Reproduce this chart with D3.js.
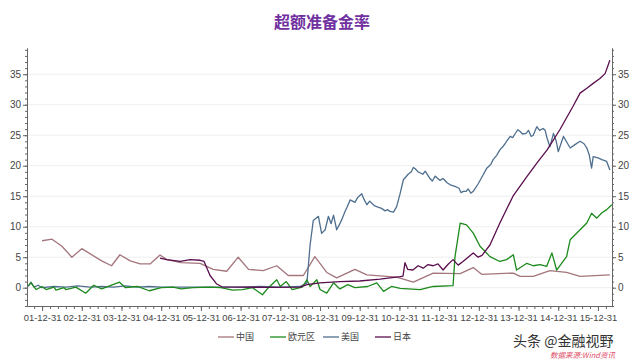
<!DOCTYPE html>
<html>
<head>
<meta charset="utf-8">
<script src="https://cdn.jsdelivr.net/npm/d3@7/dist/d3.min.js"></script>
<style>
  body { margin: 0; background: #fff; }
  svg { display: block; }
</style>
</head>
<body>
<div id="chart"></div>
<script>
// values: [year (decimal), percent]
const chinaData = [
  [2002.0, 7.7], [2002.25, 7.95], [2002.5, 6.8], [2002.75, 5.0], [2003.0, 6.4],
  [2003.5, 4.4], [2003.75, 3.6], [2003.96, 5.4], [2004.22, 4.4], [2004.47, 3.9],
  [2004.72, 3.9], [2004.97, 5.35], [2005.14, 4.6], [2005.5, 4.1], [2005.98, 4.0],
  [2006.31, 3.0], [2006.65, 2.7], [2006.94, 5.0], [2007.2, 3.0], [2007.57, 2.8],
  [2007.91, 3.6], [2008.2, 2.0], [2008.58, 2.0], [2008.87, 5.1], [2009.17, 2.5],
  [2009.42, 1.6], [2009.88, 3.0], [2010.18, 2.1], [2010.93, 1.75], [2011.35, 0.9],
  [2011.85, 2.4], [2012.53, 2.3], [2012.86, 3.3], [2013.07, 2.2], [2013.87, 2.4],
  [2014.04, 1.85], [2014.37, 1.85], [2014.79, 2.8], [2015.21, 2.5], [2015.55, 1.85],
  [2016.3, 2.1]
];

const euroData = [
  [2001.65, 0.3], [2001.72, 0.8], [2001.85, -0.3], [2002.0, 0.2], [2002.1, -0.3],
  [2002.3, 0.1], [2002.35, -0.4], [2002.55, 0.0], [2002.6, -0.3], [2002.85, 0.1],
  [2003.1, -0.9], [2003.3, 0.4], [2003.5, -0.2], [2003.7, 0.3], [2003.95, 0.9],
  [2004.1, 0.0], [2004.4, 0.2], [2004.7, -0.5], [2005.0, 0.0], [2005.3, 0.1],
  [2005.5, -0.2], [2005.8, 0.0], [2006.2, 0.1], [2006.5, 0.0], [2006.8, -0.4],
  [2007.05, -0.3], [2007.3, 0.0], [2007.55, -1.15], [2007.7, 0.0], [2007.91, 1.3],
  [2008.0, 0.2], [2008.15, 1.0], [2008.3, -0.3], [2008.55, 0.1], [2008.67, 1.3],
  [2008.75, 0.2], [2008.92, 1.3], [2009.0, -0.3], [2009.17, -0.9], [2009.34, 0.8],
  [2009.5, -0.2], [2009.7, 0.5], [2009.88, 0.0], [2010.2, 0.2], [2010.43, 0.8],
  [2010.6, -0.6], [2010.8, 0.2], [2011.02, -0.1], [2011.52, -0.3], [2011.85, 0.2],
  [2012.35, 0.33], [2012.4, 5.1], [2012.53, 10.6], [2012.69, 10.3], [2012.86, 8.95],
  [2013.03, 6.8], [2013.28, 5.1], [2013.53, 4.3], [2013.7, 4.6], [2013.87, 5.4],
  [2013.95, 2.9], [2014.21, 4.0], [2014.37, 3.6], [2014.54, 3.8], [2014.71, 3.5],
  [2014.84, 5.7], [2014.96, 2.9], [2015.21, 5.1], [2015.3, 7.85], [2015.55, 9.5],
  [2015.72, 10.6], [2015.84, 12.2], [2015.97, 11.4], [2016.1, 12.3], [2016.22, 12.8],
  [2016.35, 13.6]
];

const usData = [
  [2001.65, 0.2], [2001.72, 0.9], [2001.8, 0.1], [2001.9, 0.4], [2002.0, 0.0],
  [2002.3, 0.2], [2002.6, 0.1], [2002.9, 0.3], [2003.2, 0.1], [2003.5, 0.2],
  [2003.8, 0.1], [2004.1, 0.3], [2004.4, 0.1], [2004.7, 0.2], [2005.0, 0.1],
  [2005.5, 0.1], [2006.0, 0.1], [2006.5, 0.1], [2007.0, 0.1], [2007.5, 0.2],
  [2008.0, 0.1], [2008.5, 0.2], [2008.67, 0.8], [2008.75, 7.0], [2008.83, 11.0],
  [2008.96, 11.7], [2009.04, 8.9], [2009.13, 9.5], [2009.21, 11.7], [2009.28, 10.5],
  [2009.34, 11.9], [2009.42, 9.5], [2009.5, 10.5], [2009.55, 11.2], [2009.63, 12.5],
  [2009.68, 13.2], [2009.76, 14.4], [2009.88, 14.0], [2009.95, 14.8], [2010.05, 15.4],
  [2010.1, 14.6], [2010.18, 13.6], [2010.25, 14.2], [2010.31, 13.8], [2010.38, 13.4],
  [2010.46, 13.2], [2010.55, 13.0], [2010.64, 12.6], [2010.7, 12.8], [2010.76, 12.5],
  [2010.85, 12.4], [2010.93, 13.3], [2011.02, 15.5], [2011.1, 17.7], [2011.22, 18.6],
  [2011.3, 19.0], [2011.35, 19.7], [2011.4, 19.5], [2011.47, 19.0], [2011.53, 18.8],
  [2011.59, 18.6], [2011.65, 19.1], [2011.77, 17.9], [2011.83, 17.5], [2011.9, 18.3],
  [2011.95, 18.0], [2012.02, 17.6], [2012.1, 17.9], [2012.2, 17.2], [2012.3, 16.8],
  [2012.4, 16.6], [2012.5, 16.3], [2012.55, 15.6], [2012.61, 15.8], [2012.68, 15.8],
  [2012.73, 16.2], [2012.8, 15.5], [2012.86, 15.8], [2012.98, 17.0], [2013.1, 18.4],
  [2013.2, 19.6], [2013.3, 20.2], [2013.36, 21.0], [2013.45, 21.7], [2013.53, 22.6],
  [2013.6, 23.1], [2013.66, 23.6], [2013.72, 24.2], [2013.79, 24.8], [2013.85, 24.6],
  [2013.91, 25.2], [2013.98, 25.9], [2014.04, 25.6], [2014.1, 25.2], [2014.19, 25.3],
  [2014.25, 25.8], [2014.32, 24.8], [2014.37, 25.0], [2014.46, 26.4], [2014.53, 25.8],
  [2014.62, 26.1], [2014.67, 25.8], [2014.72, 24.5], [2014.79, 23.1], [2014.88, 25.3],
  [2014.95, 24.0], [2015.0, 22.3], [2015.13, 24.8], [2015.22, 23.8], [2015.3, 22.9],
  [2015.43, 23.5], [2015.55, 24.0], [2015.65, 23.6], [2015.72, 22.9], [2015.78, 21.8],
  [2015.84, 19.6], [2015.88, 21.5], [2016.0, 21.3], [2016.1, 21.0], [2016.22, 20.7],
  [2016.3, 19.3]
];

const japanData = [
  [2004.97, 4.85], [2005.14, 4.6], [2005.48, 4.3], [2005.73, 4.6], [2005.98, 4.5],
  [2006.08, 4.3], [2006.23, 2.0], [2006.4, 0.6], [2006.53, 0.15], [2006.99, 0.1],
  [2007.74, 0.05], [2008.5, 0.1], [2008.67, 0.5], [2009.0, 0.8], [2009.5, 1.0],
  [2010.0, 1.1], [2010.51, 1.4], [2011.02, 1.8], [2011.09, 1.9], [2011.14, 4.1],
  [2011.21, 3.0], [2011.34, 2.9], [2011.47, 3.6], [2011.6, 3.2], [2011.72, 3.8],
  [2011.85, 3.6], [2011.97, 3.9], [2012.1, 2.9], [2012.22, 3.8], [2012.35, 4.6],
  [2012.48, 3.7], [2012.6, 4.3], [2012.73, 5.0], [2012.86, 5.7], [2012.98, 5.0],
  [2013.08, 5.3], [2013.28, 7.0], [2013.53, 10.6], [2013.86, 15.0], [2014.21, 18.2],
  [2014.47, 20.5], [2014.72, 22.6], [2015.04, 25.9], [2015.37, 29.7], [2015.55, 31.9],
  [2015.72, 32.7], [2015.88, 33.5], [2016.05, 34.3], [2016.18, 35.1], [2016.3, 37.3]
];

const xTickYears = [2002, 2003, 2004, 2005, 2006, 2007, 2008, 2009, 2010, 2011, 2012, 2013, 2014, 2015, 2016];
const xTickLabels = ["01-12-31", "02-12-31", "03-12-31", "04-12-31", "05-12-31", "06-12-31", "07-12-31",
  "08-12-31", "09-12-31", "10-12-31", "11-12-31", "12-12-31", "13-12-31", "14-12-31", "15-12-31"];
const yTicks = [0, 5, 10, 15, 20, 25, 30, 35];

const seriesNames = ["中国", "欧元区", "美国", "日本"];
const seriesColors = ["#a3757c", "#1c8a1c", "#4f6f8f", "#5a0e4e"];

const width = 640, height = 360;
const plotLeft = 27, plotRight = 612, plotTop = 48, plotBottom = 306;

const svg = d3.select("#chart").append("svg")
  .attr("width", width)
  .attr("height", height)
  .style("font-family", "'Liberation Sans', Arial, sans-serif");

let x = d3.scaleLinear().domain([2001.62, 2016.354]).range([plotLeft, plotRight]);
let y = d3.scaleLinear().domain([-3, 39.3]).range([plotBottom, plotTop]);

// title
svg.append("text")
  .attr("x", 322)
  .attr("y", 28)
  .attr("text-anchor", "middle")
  .style("font-family", "'Noto Sans CJK SC', sans-serif")
  .style("font-size", "16px")
  .style("font-weight", "bold")
  .attr("fill", "#7030a0")
  .text("超额准备金率");

// grid
svg.append("g")
  .selectAll("line")
  .data(yTicks)
  .join("line")
  .attr("x1", plotLeft)
  .attr("x2", plotRight)
  .attr("y1", d => y(d))
  .attr("y2", d => y(d))
  .attr("stroke", "#efefef");

let styleAxis = (g, fontSize) => {
  g.select(".domain").attr("stroke", "#666");
  g.selectAll(".tick line").attr("stroke", "#666");
  g.selectAll(".tick text").attr("fill", "#444").style("font-size", fontSize || "10px");
}

// y axes, left and right
svg.append("g")
  .attr("transform", `translate(${plotLeft},0)`)
  .call(d3.axisLeft(y).tickValues(d3.range(-3, 40)).tickSize(2).tickFormat("").tickSizeOuter(0))
  .call(styleAxis);
svg.append("g")
  .attr("transform", `translate(${plotLeft},0)`)
  .call(d3.axisLeft(y).tickValues(yTicks).tickSize(4).tickPadding(2).tickSizeOuter(0))
  .call(styleAxis);
svg.append("g")
  .attr("transform", `translate(${plotRight},0)`)
  .call(d3.axisRight(y).tickValues(d3.range(-3, 40)).tickSize(2).tickFormat("").tickSizeOuter(0))
  .call(styleAxis);
svg.append("g")
  .attr("transform", `translate(${plotRight},0)`)
  .call(d3.axisRight(y).tickValues(yTicks).tickSize(4).tickPadding(2).tickSizeOuter(0))
  .call(styleAxis);

// x axis
svg.append("g")
  .attr("transform", `translate(0,${plotBottom})`)
  .call(d3.axisBottom(x).tickValues(d3.range(2001.8, 2016.35, 0.2)).tickSize(3).tickFormat("").tickSizeOuter(0))
  .call(styleAxis);
svg.append("g")
  .attr("transform", `translate(0,${plotBottom})`)
  .call(d3.axisBottom(x).tickValues(xTickYears).tickSize(5).tickPadding(3)
    .tickFormat((d, i) => xTickLabels[i]).tickSizeOuter(0))
  .call(styleAxis, "9.4px");

// lines
let line = d3.line().x(d => x(d[0])).y(d => y(d[1]));
let allData = [chinaData, euroData, usData, japanData];
let drawOrder = [0, 2, 1, 3];

drawOrder.forEach(i => {
  svg.append("path")
    .datum(allData[i])
    .attr("d", line)
    .attr("fill", "none")
    .attr("stroke", seriesColors[i])
    .attr("stroke-width", 1.3)
    .attr("stroke-linejoin", "round");
});

// legend
let legendX = [218, 270, 323, 375];
let legend = svg.append("g")
  .style("font-family", "'Noto Sans CJK SC', sans-serif")
  .style("font-size", "9px");
seriesNames.forEach((name, i) => {
  legend.append("line")
    .attr("x1", legendX[i])
    .attr("x2", legendX[i] + 16)
    .attr("y1", 337)
    .attr("y2", 337)
    .attr("stroke", seriesColors[i])
    .attr("stroke-width", 1.3);
  legend.append("text")
    .attr("x", legendX[i] + 18)
    .attr("y", 340)
    .attr("fill", "#444")
    .text(name);
});

// watermark
svg.append("text")
  .attr("x", 513)
  .attr("y", 346)
  .style("font-family", "'Noto Sans CJK SC', sans-serif")
  .style("font-size", "14px")
  .attr("fill", "#333")
  .text("头条 @金融视野");
svg.append("text")
  .attr("x", 550)
  .attr("y", 358)
  .style("font-family", "'Noto Sans CJK SC', sans-serif")
  .style("font-size", "7.5px")
  .style("font-style", "italic")
  .attr("fill", "#e0506a")
  .text("数据来源:Wind资讯");
</script>
</body>
</html>
